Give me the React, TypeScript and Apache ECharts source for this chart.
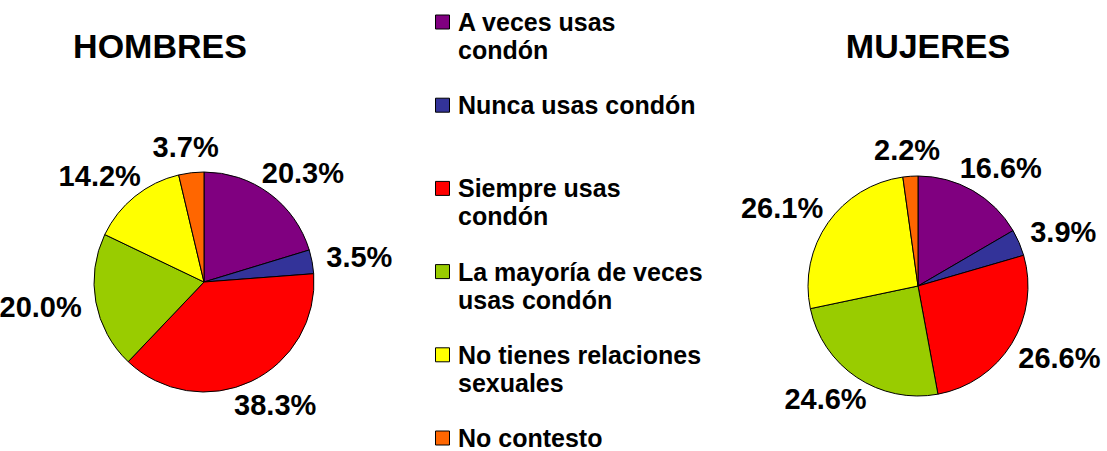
import React, { useEffect, useRef } from "react";
import * as echarts from "echarts";

const categories = [
  "A veces usas condón",
  "Nunca usas condón",
  "Siempre usas condón",
  "La mayoría de veces usas condón",
  "No tienes relaciones sexuales",
  "No contesto",
];
const legendLabels = [
  "A veces usas\ncondón",
  "Nunca usas condón",
  "Siempre usas\ncondón",
  "La mayoría de veces\nusas condón",
  "No tienes relaciones\nsexuales",
  "No contesto",
];
const hombres = [20.3, 3.5, 38.3, 20.0, 14.2, 3.7];
const mujeres = [16.6, 3.9, 26.6, 24.6, 26.1, 2.2];
const colors = ["#800080", "#333399", "#FF0000", "#99CC00", "#FFFF00", "#FF6600"];
const titles = ["HOMBRES", "MUJERES"];

const FONT = "Liberation Sans, Arial, sans-serif";
const centers: [number, number][] = [
  [204, 282],
  [918, 286],
];
const radius = 110;

export default function App() {
  const ref = useRef<HTMLDivElement>(null);
  useEffect(() => {
    document.body.style.margin = "0";
    if (!ref.current) return;
    const chart = echarts.init(ref.current, null, { renderer: "svg" });
    const seriesData = [hombres, mujeres];

    const makeLayout = (si: number) => (params: any) => {
      const vals = seriesData[si];
      const total = vals.reduce((a, b) => a + b, 0);
      let cum = 0;
      for (let i = 0; i < params.dataIndex; i++) cum += vals[i];
      const theta = ((cum + vals[params.dataIndex] / 2) / total) * Math.PI * 2;
      const s = Math.sin(theta);
      const c = Math.cos(theta);
      const [cx, cy] = centers[si];
      const R = radius + 15;
      const w = params.labelRect.width;
      const h = params.labelRect.height * 0.75;
      return {
        x: cx + R * s + (w / 2) * s,
        y: cy - R * c - (h / 2) * c,
        align: "center",
        verticalAlign: "middle",
      };
    };

    const graphic: any[] = [];
    categories.forEach((cat, i) => {
      const yc = 22 + i * 83.2;
      const twoLines = legendLabels[i].indexOf("\n") >= 0;
      const lh = twoLines ? 28 : 24;
      graphic.push({
        type: "rect",
        shape: { x: 435.5, y: yc - 7, width: 14, height: 14 },
        style: { fill: colors[i], stroke: "#000", lineWidth: 1 },
      });
      graphic.push({
        type: "text",
        x: 458,
        y: yc - lh / 2,
        style: {
          text: legendLabels[i],
          fontFamily: FONT,
          fontWeight: "bold",
          fontSize: 25,
          lineHeight: lh,
          fill: "#000",
          verticalAlign: "top",
          align: "left",
        },
      });
    });

    const mkSeries = (si: number, vals: number[]) => ({
      type: "pie",
      center: centers[si],
      radius: radius,
      startAngle: 90,
      clockwise: true,
      silent: true,
      data: vals.map((v, i) => ({ name: categories[i], value: v, itemStyle: { color: colors[i] } })),
      itemStyle: { borderColor: "#000", borderWidth: 1 },
      label: {
        show: true,
        position: "outside",
        alignTo: "none",
        overflow: "none",
        bleedMargin: 0,
        formatter: (p: any) => p.value.toFixed(1) + "%",
        fontFamily: FONT,
        fontWeight: "bold",
        fontSize: 29,
        lineHeight: 30,
        color: "#000",
      },
      labelLine: { show: false },
      labelLayout: makeLayout(si),
      emphasis: { disabled: true },
    });

    chart.setOption({
      animation: false,
      backgroundColor: "#fff",
      title: titles.map((t, i) => ({
        text: t,
        left: i === 0 ? 155 : 923,
        textAlign: "center",
        top: 23,
        textStyle: {
          fontFamily: FONT,
          fontWeight: "bold",
          fontSize: 34,
          lineHeight: 36,
          color: "#000",
        },
      })),
      graphic,
      series: [mkSeries(0, hombres), mkSeries(1, mujeres)],
    });
    return () => chart.dispose();
  }, []);
  return <div ref={ref} style={{ width: 1107, height: 451 }} />;
}
